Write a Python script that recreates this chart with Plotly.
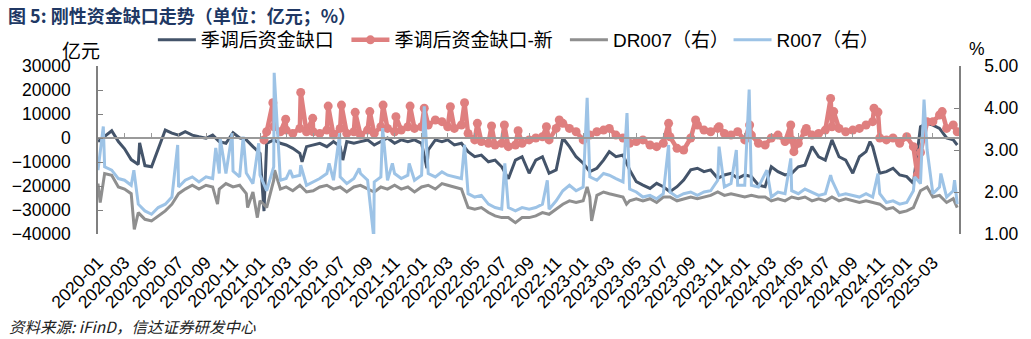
import pandas as pd
import plotly.graph_objects as go

# ---------------- data ----------------
# Semi-monthly readings (1st and 16th of each month)
NAVY_START = (2020, 1)
NAVY_GRID = [
    # 2020
    -1500, 500, 3000, -1500, -4500, -9000, -11000, -11500, -12000, -5000, 3300, 2000,
    1200, 2600, 1200, 500, -100, 1200, -1500, -2200, 2200, 0, -800, -3600,
    # 2021
    -6400, -2200, -800, -2200, -2900, -4300, -6400, -3600, -2900, -2200, -3600, -1500,
    -3600, -1500, -2200, -1500, -800, -2900, -1500, 0, -2200, -800, -1500, -800,
    # 2022
    -2200, -5000, -800, -1500, -800, -2900, -2200, -5700, -7800, -7100, -9900, -9200,
    -12000, -17000, -9200, -7800, -14700, -9200, -7800, -14700, -13300, 0, -3600, -7800,
    # 2023
    -10500, -14000, -12600, -9200, -5700, -7800, -7100, -13300, -18200, -19600, -21000, -18900,
    -20300, -22400, -20300, -17500, -13300, -12600, -14000, -13300, -16800, -15400, -14700, -16800,
    # 2024
    -15400, -16100, -19600, -20300, -12000, -14000, -15400, -14700, -12000, -11300, -3600, -7800,
    -9200, -800, -7800, -9200, -14700, -7800, -5700, -3600, -14700, -14000, -12600, -15400,
    # 2025
    -16100, -18900, 4700, 6100, 5400, 4000, 0, -800,
]
NAVY_EXTRA_DATES = ["2020-04-04", "2021-01-10", "2021-04-06", "2021-07-07",
                    "2022-01-13", "2024-10-10", "2025-04-25"]
NAVY_EXTRA_VALUES = [-2000, -30500, -9900, -9200, -12600, -1500, -2900]

# red series starts mid-January 2021 (grid from 2021-01-16)
RED_START = (2021, 1)
RED_GRID = [
    2600,
    4700, 2600, 3300, 1900, 4000, 2600, 2600, 1900, 3300, 1200, 4000, 1900,
    2600, 1200, 3300, 1900, 4700, 4000, 2600, 3300, 4700, 4000,
    # 2022
    4700, 5400, 7500, 6800, 4700, 4000, 5400, 1900, -800, -1500, -2200, -2900,
    -2200, -3600, -2900, -2200, -800, 0, 500, -800, 4000, 6100, 4000, 2600,
    # 2023
    -800, 1200, 2600, 3300, 4000, 1200, 0, -2200, -1500, -800, -2900, -3600,
    -2200, 500, -4300, -5000, 0, 5400, 3300, 2600, 4000, 1900, 1200, 2600,
    # 2024
    -800, 1200, -2200, -2900, 0, 1200, -1500, -800, -2200, 2600, 1200, 1900,
    3300, 4700, 4000, 2600, 3300, 4000, 5400, 6800, 0, -800, 0, -2200,
    # 2025
    500, -3600, -6000, 6800, 6800, 9600, 4000, 5400,
]
RED_EXTRA_DATES = [
    "2021-01-10", "2021-01-30", "2021-02-28", "2021-04-03", "2021-04-30", "2021-06-04",
    "2021-07-04", "2021-08-04", "2021-09-06", "2021-10-06", "2021-11-04", "2021-12-06",
    "2022-01-07", "2022-03-07", "2022-04-08", "2022-05-07", "2022-06-08", "2022-07-07",
    "2022-08-07", "2022-10-10", "2022-11-08", "2023-07-13", "2023-09-12", "2023-11-04",
    "2024-01-12", "2024-04-14", "2024-04-21", "2024-05-19", "2024-07-13", "2024-07-20",
    "2024-10-19", "2024-10-28", "2025-01-25", "2025-03-22", "2025-04-25",
]
RED_EXTRA_VALUES = [
    -800, 14700, 7800, 19000, 8200, 13300,
    13700, 10700, 11000, 13700, 8900, 13300,
    12400, 13000, 14700, 6100, 5000, 5400,
    3000, 4700, 7500, 6100, 7500, 4700,
    5400, 5400, -5700, 4000, 16500, 11000,
    12400, 10800, -15400, 11000, 2600,
]

DR_START = (2020, 1)
DR_GRID = [
    # 2020
    2.20, 2.44, 2.40, 2.12, 2.07, 1.96, 1.51, 1.35, 1.31, 1.43, 1.55, 1.71,
    1.96, 2.07, 2.16, 2.07, 2.16, 2.12, 2.07, 2.20, 2.12, 2.16, 1.96, 2.00,
    # 2021
    1.79, 1.63, 2.28, 2.07, 2.12, 2.03, 2.16, 2.00, 2.03, 2.12, 2.16, 2.07,
    2.12, 2.00, 2.12, 2.16, 2.07, 2.00, 2.12, 2.07, 2.16, 2.07, 2.12, 2.00,
    # 2022
    2.12, 2.16, 2.07, 2.20, 2.16, 2.12, 2.07, 1.63, 1.59, 1.63, 1.51, 1.43,
    1.39, 1.39, 1.27, 1.39, 1.39, 1.43, 1.51, 1.47, 1.59, 1.71, 1.79, 1.75,
    # 2023
    1.79, 1.88, 1.92, 2.00, 1.96, 1.92, 1.88, 1.79, 1.84, 1.79, 1.84, 1.75,
    1.88, 1.88, 1.79, 1.84, 1.88, 1.84, 1.88, 1.92, 2.00, 1.92, 1.96, 1.92,
    # 2024
    1.88, 1.92, 1.88, 1.88, 1.79, 1.84, 1.79, 1.88, 1.84, 1.88, 1.79, 1.84,
    1.79, 1.88, 1.79, 1.84, 1.79, 1.75, 1.79, 1.75, 1.71, 1.59, 1.63, 1.51,
    # 2025
    1.55, 1.63, 2.03, 2.12, 1.88, 1.92, 1.75, 1.84,
]
DR_EXTRA_DATES = ["2020-01-06", "2020-03-23", "2020-09-27", "2020-12-04", "2020-12-26",
                  "2021-02-03", "2023-01-10", "2023-01-20", "2023-04-09", "2025-04-25"]
DR_EXTRA_VALUES = [1.75, 1.11, 1.71, 1.63, 1.39, 2.52, 2.12, 1.31, 1.71, 1.63]

R_START = (2020, 1)
R_GRID = [
    # 2020
    2.52, 2.60, 2.52, 2.32, 2.28, 2.16, 1.71, 1.55, 1.47, 1.63, 1.71, 1.88,
    2.12, 2.28, 2.36, 2.24, 2.36, 2.32, 2.44, 2.44, 2.50, 2.36, 2.45, 2.20,
    # 2021
    2.40, 2.03, 2.60, 2.28, 2.32, 2.36, 2.40, 2.16, 2.24, 2.32, 2.44, 2.28,
    2.36, 2.20, 2.32, 2.44, 2.28, 2.24, 2.36, 2.28, 2.44, 2.32, 2.40, 2.28,
    # 2022
    2.40, 2.44, 2.36, 2.48, 2.40, 2.36, 2.32, 1.96, 1.88, 1.92, 1.71, 1.63,
    1.59, 1.63, 1.55, 1.63, 1.59, 1.63, 1.71, 1.59, 1.79, 2.03, 2.16, 2.03,
    # 2023
    2.12, 2.36, 2.28, 2.44, 2.40, 2.32, 2.24, 2.07, 2.00, 1.88, 1.92, 1.84,
    1.96, 2.00, 1.88, 1.96, 2.00, 1.92, 2.00, 2.03, 2.28, 2.12, 2.20, 2.16,
    # 2024
    2.16, 2.16, 2.12, 2.44, 1.88, 2.00, 1.96, 2.03, 1.96, 2.07, 2.00, 1.92,
    1.96, 2.28, 1.92, 1.96, 1.92, 1.88, 1.96, 1.88, 1.96, 1.75, 1.79, 1.71,
    # 2025
    1.75, 2.03, 2.20, 3.00, 1.96, 2.12, 1.88, 2.03,
]
R_EXTRA_DATES = [
    "2020-01-13", "2020-03-22", "2020-06-29", "2020-09-23", "2020-10-03", "2020-10-30",
    "2020-11-24", "2020-12-29", "2021-02-02", "2021-03-10", "2021-04-03", "2021-06-06",
    "2021-06-30", "2021-08-13", "2021-09-15", "2021-10-05", "2021-10-27", "2021-12-04",
    "2022-01-07", "2022-04-08", "2022-07-08", "2022-10-12", "2023-01-10", "2023-04-10",
    "2023-07-13", "2023-11-04", "2023-12-13", "2024-01-11", "2024-02-20", "2024-04-14",
    "2024-07-13", "2024-10-28", "2025-01-19", "2025-02-09", "2025-03-19", "2025-04-19",
    "2025-04-25",
]
R_EXTRA_VALUES = [
    3.56, 2.52, 3.12, 3.05, 3.28, 3.40,
    3.32, 3.16, 4.84, 2.52, 2.64, 2.68,
    3.40, 2.56, 0.91, 3.52, 2.68, 2.68,
    4.04, 3.12, 2.68, 2.28, 4.24, 3.88,
    3.12, 3.08, 3.00, 4.44, 2.52, 2.80,
    2.40, 2.44, 2.36, 4.20, 2.44, 2.28,
    1.71,
]

TICK_START = "2020-01-01"
X_RANGE = ["2020-01-01", "2025-04-29"]
Y_LEFT_RANGE = [-40000, 30000]
Y_RIGHT_RANGE = [1, 5]

TITLE = "图 5: 刚性资金缺口走势（单位：亿元；%）"
SOURCE = "资料来源: iFinD，信达证券研发中心"
NAMES = ["季调后资金缺口", "季调后资金缺口-新", "DR007（右）", "R007（右）"]

NAVY = "#44546A"
RED = "#DF7F7F"
GRAY = "#8F8F8F"
BLUE = "#9DC3E6"
AXIS = "#9A9A9A"


# ---------------- helpers ----------------
def half_month_dates(start, n, skip_first=False):
    y, m = start
    out = []
    while len(out) < n + (1 if skip_first else 0):
        out.append(pd.Timestamp(y, m, 1))
        out.append(pd.Timestamp(y, m, 16))
        m += 1
        if m > 12:
            m, y = 1, y + 1
    if skip_first:
        out = out[1:]
    return out[:n]


def build(start, grid, extra_dates, extra_vals, skip_first=False):
    s = pd.Series(grid, index=half_month_dates(start, len(grid), skip_first))
    e = pd.Series(extra_vals, index=pd.to_datetime(extra_dates))
    allv = pd.concat([s, e]).sort_index()
    allv = allv[~allv.index.duplicated(keep="last")]
    return allv.index, allv.values


nav_x, nav_y = build(NAVY_START, NAVY_GRID, NAVY_EXTRA_DATES, NAVY_EXTRA_VALUES)
red_x, red_y = build(RED_START, RED_GRID, RED_EXTRA_DATES, RED_EXTRA_VALUES, skip_first=True)
dr_x, dr_y = build(DR_START, DR_GRID, DR_EXTRA_DATES, DR_EXTRA_VALUES)
r_x, r_y = build(R_START, R_GRID, R_EXTRA_DATES, R_EXTRA_VALUES)

FONT = "Liberation Sans, Noto Sans CJK SC, sans-serif"

fig = go.Figure()
fig.add_trace(go.Scatter(x=nav_x, y=nav_y, name=NAMES[0], mode="lines",
                         line=dict(color=NAVY, width=3), legend="legend"))
fig.add_trace(go.Scatter(x=red_x, y=red_y, name=NAMES[1], mode="lines+markers",
                         line=dict(color=RED, width=4.5),
                         marker=dict(size=9, color=RED), legend="legend2"))
fig.add_trace(go.Scatter(x=dr_x, y=dr_y, name=NAMES[2], mode="lines", yaxis="y2",
                         line=dict(color=GRAY, width=3), legend="legend3"))
fig.add_trace(go.Scatter(x=r_x, y=r_y, name=NAMES[3], mode="lines", yaxis="y2",
                         line=dict(color=BLUE, width=3), legend="legend4"))
# carrier for the zero-crossing x axis line
fig.add_trace(go.Scatter(x=[TICK_START], y=[None], xaxis="x2", showlegend=False,
                         hoverinfo="skip", mode="lines"))

zero_frac = (0 - Y_LEFT_RANGE[0]) / (Y_LEFT_RANGE[1] - Y_LEFT_RANGE[0])

leg_common = dict(orientation="h", yanchor="middle", xanchor="left",
                  bgcolor="rgba(0,0,0,0)", font=dict(family=FONT, size=19, color="#000"),
                  itemwidth=38, borderwidth=0)
W_PLOT = 1031 - 97 - 71
def px2x(px):
    return (px - 97) / W_PLOT
ly = (234 - 40) / 168

fig.update_layout(
    width=1031, height=339, autosize=False,
    margin=dict(l=97, r=71, t=66, b=105, pad=0),
    paper_bgcolor="white", plot_bgcolor="white",
    font=dict(family=FONT, size=17.5, color="#000"),
    showlegend=True,
    legend=dict(x=px2x(152), y=ly, **leg_common),
    legend2=dict(x=px2x(346), y=ly, **leg_common),
    legend3=dict(x=px2x(565), y=ly, **leg_common),
    legend4=dict(x=px2x(729), y=ly, **leg_common),
    xaxis=dict(range=X_RANGE, type="date", tick0=TICK_START, dtick="M2",
               tickformat="%Y-%m", tickangle=-45, showline=False, ticks="",
               showgrid=False, zeroline=False, ticklabelstandoff=14,
               tickfont=dict(size=17.5, family=FONT)),
    xaxis2=dict(range=X_RANGE, type="date", overlaying="x", anchor="free",
                position=zero_frac, tick0=TICK_START, dtick="M2",
                showline=True, linecolor=AXIS, linewidth=1.5,
                ticks="inside", ticklen=4, tickcolor=AXIS, tickwidth=1,
                showticklabels=False, showgrid=False, zeroline=False),
    yaxis=dict(range=Y_LEFT_RANGE, dtick=10000, tickformat="d", showline=True,
               linecolor="#808080", linewidth=1.5, ticks="inside", ticklen=5,
               tickcolor="#808080", showgrid=False, zeroline=False, ticklabelstandoff=22,
               tickfont=dict(size=17.5, family=FONT)),
    yaxis2=dict(range=Y_RIGHT_RANGE, dtick=1, tickformat=".2f", overlaying="y",
                side="right", anchor="x", showline=True, linecolor="#808080",
                linewidth=1.5, ticks="inside", ticklen=5, tickcolor="#808080",
                showgrid=False, zeroline=False, ticklabelstandoff=20,
                tickfont=dict(size=17.5, family=FONT)),
    annotations=[
        dict(text=TITLE, xref="paper", yref="paper", x=px2x(5), y=(234 - 15) / 168,
             xanchor="left", yanchor="middle", showarrow=False,
             font=dict(family="Noto Sans CJK SC", size=18, color="#203864", weight="bold")),
        dict(text="亿元", xref="paper", yref="paper", x=px2x(101), y=(234 - 51) / 168,
             xanchor="right", yanchor="middle", showarrow=False,
             font=dict(family=FONT, size=19, color="#000")),
        dict(text="%", xref="paper", yref="paper", x=px2x(978), y=(234 - 49) / 168,
             xanchor="center", yanchor="middle", showarrow=False,
             font=dict(family=FONT, size=17.5, color="#000")),
        dict(text=SOURCE, xref="paper", yref="paper", x=px2x(6), y=(234 - 326) / 168,
             xanchor="left", yanchor="middle", showarrow=False,
             font=dict(family="Noto Sans CJK SC", size=15.5, color="#222", style="italic")),
    ],
)

fig.write_html("out.html")
